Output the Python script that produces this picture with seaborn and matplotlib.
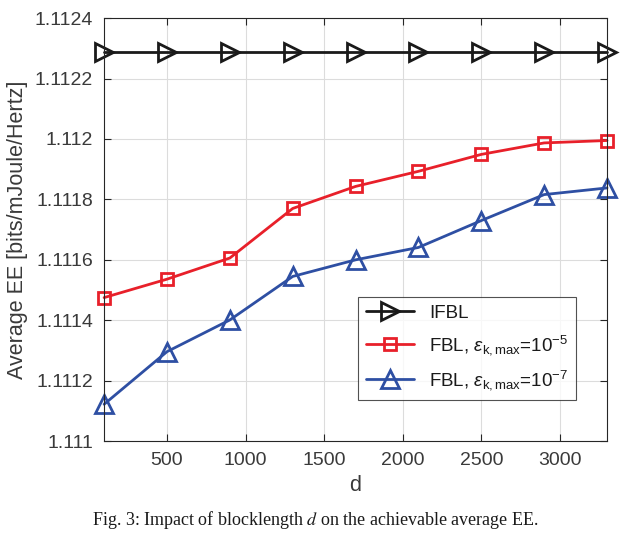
import pandas as pd
import seaborn as sns
import matplotlib.pyplot as plt
from matplotlib.ticker import FuncFormatter

# data
d = [100, 500, 900, 1300, 1700, 2100, 2500, 2900, 3300]
ee_ifbl = [1.112289] * 9
ee_fbl_5 = [1.111475, 1.111536, 1.111606, 1.111770, 1.111843, 1.111893, 1.111949, 1.111987, 1.111995]
ee_fbl_7 = [1.111122, 1.111296, 1.111401, 1.111545, 1.111600, 1.111641, 1.111730, 1.111816, 1.111838]

labels = ['IFBL',
          r'FBL, $\epsilon_{\mathrm{k,max}}$=10$^{\mathrm{-5}}$',
          r'FBL, $\epsilon_{\mathrm{k,max}}$=10$^{\mathrm{-7}}$']
colors = ['#1a1a1a', '#e8202a', '#2e4fa3']
markers = ['>', 's', '^']

sns.set_theme(style="whitegrid")
plt.rcParams['font.family'] = ['Liberation Sans', 'DejaVu Sans']
plt.rcParams['mathtext.fontset'] = 'custom'
plt.rcParams['mathtext.rm'] = 'Liberation Sans'
plt.rcParams['mathtext.it'] = 'Liberation Sans:italic'

fig = plt.figure(figsize=(6.31, 5.5), dpi=100)
ax = fig.add_axes([0.165, 0.198, 0.797, 0.769])

for ys, lab, c, m in zip([ee_ifbl, ee_fbl_5, ee_fbl_7], labels, colors, markers):
    df = pd.DataFrame({'d': d, 'EE': ys})
    ms = 9 if m == 's' else 12.5
    sns.lineplot(data=df, x='d', y='EE', ax=ax, color=c, lw=2, marker=m,
                 markersize=ms, markerfacecolor='none', markeredgecolor=c,
                 markeredgewidth=2, label=lab, clip_on=False)

ax.set_xlim(100, 3300)
ax.set_ylim(1.111, 1.1124)
ax.set_xticks([500, 1000, 1500, 2000, 2500, 3000])
ax.set_yticks([1.111, 1.1112, 1.1114, 1.1116, 1.1118, 1.112, 1.1122, 1.1124])
ax.yaxis.set_major_formatter(FuncFormatter(lambda v, p: f'{v:.4f}'.rstrip('0')))

ax.set_facecolor('white')
ax.grid(True, color='#dcdcdc', lw=0.8)
for s in ax.spines.values():
    s.set_color('#262626')
    s.set_linewidth(0.8)
ax.tick_params(direction='in', length=5, width=0.8, color='#262626',
               labelsize=14, labelcolor='#3a3a3a', top=True, right=True,
               bottom=True, left=True, pad=8)

ax.set_xlabel('d', fontsize=15.5, color='#3a3a3a', labelpad=4)
ax.set_ylabel('Average EE [bits/mJoule/Hertz]', fontsize=15.5, color='#3a3a3a', labelpad=5)

leg = ax.legend(loc='upper left', bbox_to_anchor=(0.505, 0.340), borderaxespad=0,
                fontsize=13.5, frameon=True, fancybox=False, handlelength=2.6,
                labelspacing=0.6, borderpad=0.4)
leg.get_frame().set_edgecolor('#262626')
leg.get_frame().set_linewidth(0.8)
for t in leg.get_texts():
    t.set_color('#1a1a1a')

fig.text(0.5, 0.055, r'Fig. 3: Impact of blocklength $d$ on the achievable average EE.',
         ha='center', va='center', fontsize=13, family='Liberation Serif',
         math_fontfamily='stix', color='#1a1a1a')

plt.savefig('out.png', dpi=100)
